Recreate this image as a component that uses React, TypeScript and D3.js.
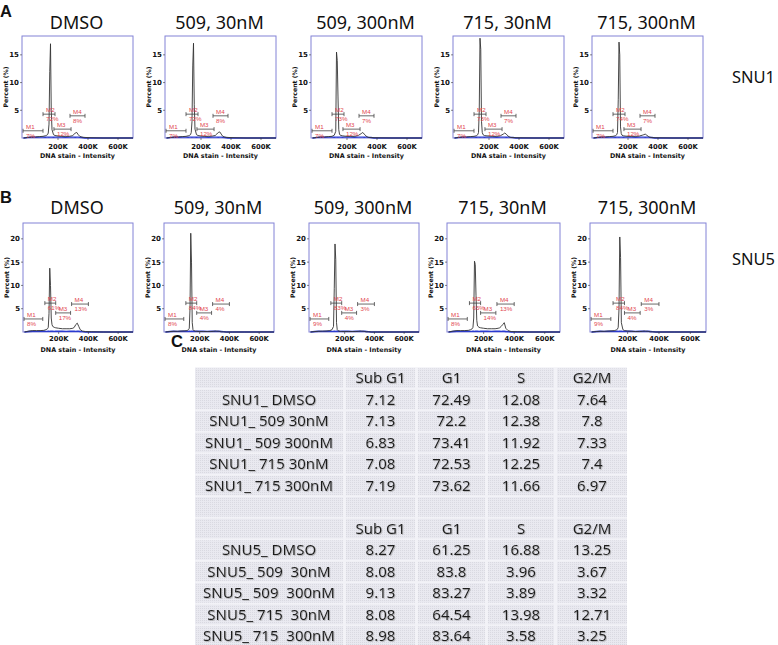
import React from 'react';
import * as d3 from 'd3';

// ---------- data ----------
const CONDITIONS = ['DMSO', '509, 30nM', '509, 300nM', '715, 30nM', '715, 300nM'];
const ROW_LETTERS = ['A', 'B'];
const CELL_LINES = ['SNU1', 'SNU5'];
const BINS_K = [-30, 0, 25, 50, 75, 100, 115, 125, 130, 135, 140, 145, 150, 155, 160, 170, 180, 200, 225, 250, 275, 295, 305, 315, 325, 335, 345, 360, 380, 420, 500, 600, 700];

const HIST_SNU1 = [
  [0, 0.1, 0.2, 0.2, 0.25, 0.3, 0.4, 0.5, 0.6, 0.9, 2.5, 12, 17, 5, 1.5, 0.6, 0.45, 0.35, 0.3, 0.3, 0.3, 0.4, 0.6, 0.9, 1.0, 0.6, 0.3, 0.15, 0.1, 0.05, 0, 0, 0],
  [0, 0.1, 0.2, 0.2, 0.25, 0.3, 0.4, 0.5, 0.6, 1.0, 3, 13, 17.1, 6, 1.6, 0.6, 0.45, 0.35, 0.3, 0.3, 0.35, 0.45, 0.7, 1.0, 1.1, 0.7, 0.3, 0.15, 0.1, 0.05, 0, 0, 0],
  [0, 0.1, 0.2, 0.2, 0.25, 0.3, 0.5, 1.2, 15.5, 14, 7.4, 1.5, 0.7, 0.5, 0.45, 0.4, 0.35, 0.3, 0.3, 0.3, 0.45, 0.8, 1.0, 0.7, 0.4, 0.2, 0.1, 0.08, 0.05, 0.03, 0, 0, 0],
  [0, 0.1, 0.2, 0.2, 0.25, 0.3, 0.4, 0.6, 1.0, 5, 18, 16, 3, 1.0, 0.6, 0.45, 0.4, 0.35, 0.3, 0.3, 0.4, 0.7, 0.9, 0.7, 0.4, 0.2, 0.1, 0.08, 0.05, 0.03, 0, 0, 0],
  [0, 0.1, 0.2, 0.2, 0.25, 0.3, 0.4, 0.6, 1.0, 7, 17.3, 15, 2, 0.8, 0.5, 0.4, 0.35, 0.3, 0.3, 0.3, 0.35, 0.5, 0.6, 0.7, 0.5, 0.3, 0.15, 0.08, 0.05, 0.03, 0, 0, 0],
];
const HIST_SNU5 = [
  [0, 0.2, 0.3, 0.3, 0.3, 0.35, 0.5, 0.7, 1.0, 4, 13.7, 10, 3, 1.6, 1.2, 1.0, 0.9, 0.8, 0.7, 0.7, 0.7, 0.8, 1.0, 1.6, 1.9, 1.2, 0.5, 0.2, 0.1, 0.05, 0, 0, 0],
  [0, 0.1, 0.15, 0.15, 0.2, 0.25, 0.3, 0.5, 0.8, 5, 21.2, 15, 2, 0.5, 0.3, 0.2, 0.15, 0.1, 0.1, 0.1, 0.1, 0.15, 0.2, 0.2, 0.15, 0.1, 0.05, 0.03, 0, 0, 0, 0, 0],
  [0, 0.1, 0.15, 0.2, 0.2, 0.3, 0.5, 1.2, 9.4, 18.9, 15.5, 2, 0.5, 0.3, 0.2, 0.15, 0.1, 0.1, 0.1, 0.1, 0.1, 0.15, 0.2, 0.2, 0.15, 0.1, 0.05, 0.03, 0, 0, 0, 0, 0],
  [0, 0.2, 0.3, 0.3, 0.3, 0.35, 0.5, 0.7, 1.0, 3, 15.2, 14.5, 7.9, 2.5, 1.3, 1.0, 0.9, 0.8, 0.7, 0.7, 0.7, 0.8, 0.9, 1.2, 1.6, 2.0, 0.8, 0.3, 0.1, 0.05, 0, 0, 0],
  [0, 0.1, 0.15, 0.15, 0.2, 0.25, 0.3, 0.4, 0.5, 0.6, 1.0, 5, 20.4, 16, 2, 0.5, 0.3, 0.2, 0.15, 0.1, 0.1, 0.15, 0.2, 0.2, 0.15, 0.1, 0.05, 0.03, 0, 0, 0, 0, 0],
];
const BLUE_TRACE = [0, 0.12, 0.15, 0.14, 0.16, 0.15, 0.14, 0.15, 0.16, 0.15, 0.14, 0.15, 0.16, 0.15, 0.15, 0.14, 0.15, 0.16, 0.15, 0.14, 0.15, 0.16, 0.15, 0.14, 0.15, 0.15, 0.12, 0.08, 0, 0, 0, 0, 0];

const Y_TICKS_SNU1 = [5, 10, 15];
const Y_TICKS_SNU5 = [5, 10, 15, 20];
const Y_MAX_SNU1 = 18.4;
const Y_MAX_SNU5 = 23.4;
const X_TICKS_K = [200, 400, 600];
const GATE_NAMES = ['M1', 'M2', 'M3', 'M4'];
const GATE_START_SNU1 = [-33, 100, 173, 280];
const GATE_END_SNU1 = [100, 180, 287, 380];
const GATE_LEVEL_SNU1 = [1.3, 4.3, 1.6, 4.0];
const GATE_START_SNU5 = [-33, 107, 180, 287];
const GATE_END_SNU5 = [93, 180, 280, 400];
const GATE_LEVEL_SNU5 = [2.8, 6.2, 4.1, 6.0];
const PCT_SNU1 = [[7, 72, 12, 8], [7, 72, 12, 8], [7, 73, 12, 7], [7, 73, 12, 7], [7, 74, 12, 7]];
const PCT_SNU5 = [[8, 61, 17, 13], [8, 84, 4, 4], [9, 83, 4, 3], [8, 65, 14, 13], [9, 84, 4, 3]];

const TABLE_COLUMNS = ['Sub G1', 'G1', 'S', 'G2/M'];
const SNU1_ROWS = ['SNU1_ DMSO', 'SNU1_ 509 30nM', 'SNU1_ 509 300nM', 'SNU1_ 715 30nM', 'SNU1_ 715 300nM'];
const SNU1_SUBG1 = ['7.12', '7.13', '6.83', '7.08', '7.19'];
const SNU1_G1 = ['72.49', '72.2', '73.41', '72.53', '73.62'];
const SNU1_S = ['12.08', '12.38', '11.92', '12.25', '11.66'];
const SNU1_G2M = ['7.64', '7.8', '7.33', '7.4', '6.97'];
const SNU5_ROWS = ['SNU5_ DMSO', 'SNU5_ 509  30nM', 'SNU5_ 509  300nM', 'SNU5_ 715  30nM', 'SNU5_ 715  300nM'];
const SNU5_SUBG1 = ['8.27', '8.08', '9.13', '8.08', '8.98'];
const SNU5_G1 = ['61.25', '83.8', '83.27', '64.54', '83.64'];
const SNU5_S = ['16.88', '3.96', '3.89', '13.98', '3.58'];
const SNU5_G2M = ['13.25', '3.67', '3.32', '12.71', '3.25'];

// ---------- layout ----------
const W = 778, H = 645;
const ROWS = [
  { top: 36, bottom: 138, lefts: [22, 165, 311, 453, 592], widths: [111, 111, 111, 111, 111], titleY: 29, letterY: 17, lineY: 83, tickLblY: 148.5, axisLblY: 157.5 },
  { top: 223, bottom: 332, lefts: [23, 164, 309, 447, 590], widths: [110, 110, 110, 113, 116], titleY: 214, letterY: 203, lineY: 265, tickLblY: 341, axisLblY: 351.5 },
];
const HISTS = [HIST_SNU1, HIST_SNU5];
const YTICKS = [Y_TICKS_SNU1, Y_TICKS_SNU5];
const YMAX = [Y_MAX_SNU1, Y_MAX_SNU5];
const GSTART = [GATE_START_SNU1, GATE_START_SNU5];
const GEND = [GATE_END_SNU1, GATE_END_SNU5];
const GLEVEL = [GATE_LEVEL_SNU1, GATE_LEVEL_SNU5];
const PCTS = [PCT_SNU1, PCT_SNU5];

const FRAME = '#8282d6';
const RED = '#e2474f';
const SMALL_FONT = 'DejaVu Sans, sans-serif';
const TITLE_FONT = '"Noto Sans", "Open Sans", sans-serif';

function Panel({ r, p }: { r: number; p: number }) {
  const row = ROWS[r];
  const left = row.lefts[p];
  const w = row.widths[p];
  const x = d3.scaleLinear().domain([-40, 700]).range([left, left + w]);
  const y = d3.scaleLinear().domain([0, YMAX[r]]).range([row.bottom, row.top]);
  const pts = BINS_K.map((b, i) => [b, HISTS[r][p][i]] as [number, number]);
  const line = d3.line<[number, number]>().x(d => x(d[0])).y(d => y(d[1]));
  const bluePts = BINS_K.map((b, i) => [b, BLUE_TRACE[i]] as [number, number]);
  const cx = left + w / 2;
  const cy = (row.top + row.bottom) / 2;
  return (
    <g>
      <text x={cx - 1} y={row.titleY} textAnchor="middle" fontFamily={TITLE_FONT} fontSize={18} fill="#111">{CONDITIONS[p]}</text>
      <rect x={left} y={row.top} width={w} height={row.bottom - row.top} fill="white" stroke={FRAME} strokeWidth={1} />
      <path d={line(bluePts) || ''} fill="none" stroke="#2a3ad0" strokeWidth={1.4} />
      <path d={line(pts) || ''} fill="none" stroke="#333" strokeWidth={0.9} />
      {YTICKS[r].map(t => (
        <g key={t}>
          <line x1={left - 2} x2={left} y1={y(t)} y2={y(t)} stroke="#333" strokeWidth={0.6} />
          <text x={left - 3} y={y(t) + 2.5} textAnchor="end" fontFamily={SMALL_FONT} fontWeight="bold" fontSize={7} fill="#111">{t}</text>
        </g>
      ))}
      {X_TICKS_K.map(t => (
        <g key={t}>
          <line x1={x(t)} x2={x(t)} y1={row.bottom} y2={row.bottom + 2} stroke="#333" strokeWidth={0.6} />
          <text x={x(t)} y={row.tickLblY} textAnchor="middle" fontFamily={SMALL_FONT} fontWeight="bold" fontSize={6.8} fill="#111">{t}K</text>
        </g>
      ))}
      <text x={cx} y={row.axisLblY} textAnchor="middle" fontFamily={SMALL_FONT} fontWeight="bold" fontSize={6.4} fill="#111">DNA stain - Intensity</text>
      <text transform={`translate(${left - 14},${cy}) rotate(-90)`} textAnchor="middle" fontFamily={SMALL_FONT} fontWeight="bold" fontSize={6.2} fill="#111">Percent (%)</text>
      {GATE_NAMES.map((g, i) => {
        const x0 = Math.max(x(GSTART[r][i]), left + 1);
        const x1 = x(GEND[r][i]);
        const gy = y(GLEVEL[r][i]);
        return (
          <g key={g}>
            <line x1={x0} x2={x1} y1={gy} y2={gy} stroke="#444" strokeWidth={0.8} />
            <line x1={x0} x2={x0} y1={gy - 2} y2={gy + 2} stroke="#444" strokeWidth={0.8} />
            <line x1={x1} x2={x1} y1={gy - 2} y2={gy + 2} stroke="#444" strokeWidth={0.8} />
            <text x={x0 + 3} y={gy - 1.8} fontFamily="Liberation Sans, Arial, sans-serif" fontSize={6.2} fill={RED}>{g}</text>
            <text x={x0 + 3} y={gy + 6.8} fontFamily="Liberation Sans, Arial, sans-serif" fontSize={6.2} fill={RED}>{PCTS[r][p][i]}%</text>
          </g>
        );
      })}
    </g>
  );
}

const T_COLS = [[195, 343], [346, 415], [418, 485], [488, 554], [557, 627]];
const T_ROW0 = 378;
const T_ROWH = 21.5;

function Table() {
  type Row = { cells: string[] };
  const rows: Row[] = [];
  rows.push({ cells: ['', ...TABLE_COLUMNS] });
  SNU1_ROWS.forEach((n, i) => rows.push({ cells: [n, SNU1_SUBG1[i], SNU1_G1[i], SNU1_S[i], SNU1_G2M[i]] }));
  rows.push({ cells: ['', '', '', '', ''] });
  rows.push({ cells: ['', ...TABLE_COLUMNS] });
  SNU5_ROWS.forEach((n, i) => rows.push({ cells: [n, SNU5_SUBG1[i], SNU5_G1[i], SNU5_S[i], SNU5_G2M[i]] }));
  const top = T_ROW0 - T_ROWH / 2;
  return (
    <g>
      <rect x={T_COLS[0][0]} y={top} width={T_COLS[4][1] - T_COLS[0][0]} height={H - top} fill="#f2f2f7" />
      {rows.map((row, ri) => {
        const cy = T_ROW0 + ri * T_ROWH;
        return (
          <g key={ri}>
            {row.cells.map((c, ci) => {
              const [a, b] = T_COLS[ci];
              return (
                <g key={ci}>
                  <rect x={a} y={cy - T_ROWH / 2 + 1} width={b - a} height={T_ROWH - 2} fill="url(#dots)" />
                  <text x={(a + b) / 2} y={cy + 5.3} textAnchor="middle" fontFamily={TITLE_FONT} fontSize={15} fill="#1e1e1e" filter="url(#soft)" style={{ whiteSpace: 'pre' }}>{c}</text>
                </g>
              );
            })}
          </g>
        );
      })}
    </g>
  );
}

export default function App() {
  return (
    <svg width={W} height={H} style={{ position: 'absolute', left: 0, top: 0, background: 'white' }}>
      <defs>
        <pattern id="dots" width={2} height={2} patternUnits="userSpaceOnUse">
          <rect width={2} height={2} fill="#e9e9f0" />
          <rect width={1} height={1} fill="#d9d9e1" />
        </pattern>
        <filter id="soft" x="-10%" y="-30%" width="130%" height="160%">
          <feDropShadow dx={0.8} dy={0.8} stdDeviation={0.6} floodColor="#888" floodOpacity={0.6} />
        </filter>
      </defs>
      <rect width={W} height={H} fill="white" />
      {ROWS.map((row, r) => (
        <g key={r}>
          <text x={0} y={row.letterY} fontFamily="Liberation Sans, Arial, sans-serif" fontWeight="bold" fontSize={16.5} fill="#111">{ROW_LETTERS[r]}</text>
          <text x={775} y={row.lineY} textAnchor="end" fontFamily={TITLE_FONT} fontSize={16.5} fill="#111">{CELL_LINES[r]}</text>
          {CONDITIONS.map((c, p) => <Panel key={p} r={r} p={p} />)}
        </g>
      ))}
      <text x={171} y={347} fontFamily="Liberation Sans, Arial, sans-serif" fontWeight="bold" fontSize={16.5} fill="#111">C</text>
      <Table />
    </svg>
  );
}
